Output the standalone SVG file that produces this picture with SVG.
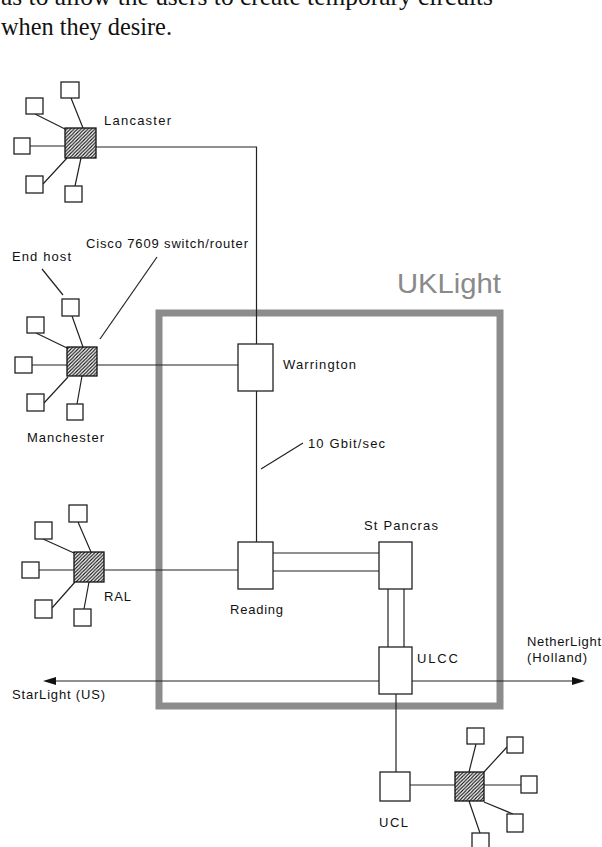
<svg xmlns="http://www.w3.org/2000/svg" width="602" height="847" viewBox="0 0 602 847">
<style>
.body{font-family:"Liberation Serif","DejaVu Serif",serif;font-size:25px;fill:#111}
.lbl{font-family:"Liberation Sans",Arial,sans-serif;font-size:13px;fill:#111}
.ln{stroke:#222;stroke-width:1.2;fill:none}
.box{fill:#fff;stroke:#222;stroke-width:1.3}
.sw{fill:url(#hatch);stroke:#111;stroke-width:1.3}
</style>
<defs>
<pattern id="hatch" patternUnits="userSpaceOnUse" width="3.5" height="3.5">
<rect width="3.5" height="3.5" fill="#fff"/>
<path d="M-1,1 L1,-1 M0,3.5 L3.5,0 M2.5,4.5 L4.5,2.5" stroke="#111" stroke-width="1.1"/>
</pattern>
</defs>
<rect width="602" height="847" fill="#fff"/>
<text class="body" x="1" y="5" textLength="492" lengthAdjust="spacingAndGlyphs">as to allow the users to create temporary circuits</text>
<text class="body" x="1" y="35" textLength="171" lengthAdjust="spacingAndGlyphs">when they desire.</text>

<g id="uklight">
<rect x="159" y="313" width="341" height="393" fill="none" stroke="#8c8c8c" stroke-width="7"/>
<text x="397" y="293" font-family="Liberation Sans, Arial, sans-serif" font-size="28" fill="#8a8a8a" textLength="104" lengthAdjust="spacingAndGlyphs">UKLight</text>
</g>

<g id="connectors">
<path class="ln" d="M96,147 H256.5 V344"/>
<path class="ln" d="M97,365 H238"/>
<path class="ln" d="M256.5,391 V542"/>
<path class="ln" d="M104,570 H238"/>
<path class="ln" d="M273,553 H379 M273,571 H379"/>
<path class="ln" d="M388,589 V647 M404,589 V647"/>
<path class="ln" d="M396,694 V772"/>
<path class="ln" d="M410,785 H455"/>
<line class="ln" x1="56" y1="681" x2="379" y2="681"/>
<line class="ln" x1="412" y1="681" x2="572" y2="681"/>
<path d="M43,681 L56,677 L56,685 Z" fill="#111"/>
<path d="M585,681 L572,677 L572,685 Z" fill="#111"/>
<path class="ln" d="M303,443 L261,469"/>
<path class="ln" d="M42,269 L63,295"/>
<path class="ln" d="M157,257 L100,339"/>
</g>

<g id="lancaster">
<path class="ln" d="M71,98 L83,128 M35,114 L65,129 M30,146 H65 M43,184 L67,158 M75,186 L81,158"/>
<rect class="box" x="61" y="82" width="18" height="16"/>
<rect class="box" x="26" y="98" width="17" height="16"/>
<rect class="box" x="14" y="138" width="16" height="16"/>
<rect class="box" x="26" y="176" width="17" height="17"/>
<rect class="box" x="65" y="186" width="17" height="16"/>
<rect class="sw" x="65" y="128" width="31" height="30"/>
<text class="lbl" x="104" y="125" textLength="67" lengthAdjust="spacing">Lancaster</text>
</g>

<g id="manchester">
<path class="ln" d="M72,316 L83,347 M36,333 L67,348 M32,365 H67 M44,403 L68,377 M77,404 L82,376"/>
<rect class="box" x="62" y="299" width="17" height="17"/>
<rect class="box" x="27" y="317" width="17" height="16"/>
<rect class="box" x="15" y="357" width="17" height="16"/>
<rect class="box" x="27" y="394" width="17" height="17"/>
<rect class="box" x="67" y="404" width="16" height="16"/>
<rect class="sw" x="67" y="347" width="30" height="29"/>
<text class="lbl" x="27" y="442" textLength="77" lengthAdjust="spacing">Manchester</text>
<text class="lbl" x="12" y="261" textLength="59" lengthAdjust="spacing">End host</text>
<text class="lbl" x="86" y="248" textLength="162" lengthAdjust="spacing">Cisco 7609 switch/router</text>
</g>

<g id="ral">
<path class="ln" d="M78,522 L91,552 M43,539 L74,553 M39,570 H74 M52,608 L75,582 M84,609 L89,582"/>
<rect class="box" x="69" y="505" width="18" height="17"/>
<rect class="box" x="35" y="522" width="17" height="17"/>
<rect class="box" x="22" y="562" width="17" height="16"/>
<rect class="box" x="35" y="600" width="17" height="18"/>
<rect class="box" x="74" y="609" width="17" height="17"/>
<rect class="sw" x="74" y="552" width="30" height="30"/>
<text class="lbl" x="104" y="601" textLength="27" lengthAdjust="spacing">RAL</text>
</g>

<g id="warrington">
<rect class="box" x="238" y="344" width="35" height="47"/>
<text class="lbl" x="283" y="369" textLength="73" lengthAdjust="spacing">Warrington</text>
</g>

<g id="link-label">
<text class="lbl" x="308" y="448" textLength="77" lengthAdjust="spacing">10 Gbit/sec</text>
</g>

<g id="reading">
<rect class="box" x="238" y="542" width="35" height="47"/>
<text class="lbl" x="230" y="614" textLength="53" lengthAdjust="spacing">Reading</text>
</g>

<g id="stpancras">
<rect class="box" x="379" y="542" width="33" height="47"/>
<text class="lbl" x="364" y="530" textLength="74" lengthAdjust="spacing">St Pancras</text>
</g>

<g id="ulcc">
<rect class="box" x="379" y="647" width="33" height="47"/>
<text class="lbl" x="417" y="663" textLength="41" lengthAdjust="spacing">ULCC</text>
</g>

<g id="netherlight">
<text class="lbl" x="527" y="646" textLength="74" lengthAdjust="spacing">NetherLight</text>
<text class="lbl" x="527" y="662" textLength="60" lengthAdjust="spacing">(Holland)</text>
</g>

<g id="starlight">
<text class="lbl" x="12" y="699" textLength="93" lengthAdjust="spacing">StarLight (US)</text>
</g>

<g id="ucl">
<rect class="box" x="380" y="772" width="30" height="29"/>
<text class="lbl" x="379" y="827" textLength="29" lengthAdjust="spacing">UCL</text>
</g>

<g id="ucl-switch">
<path class="ln" d="M476,744 L469,772 M507,747 L484,772 M484,785 H521 M484,802 L513,814 M469,801 L480,833"/>
<rect class="box" x="467" y="728" width="17" height="16"/>
<rect class="box" x="507" y="737" width="16" height="16"/>
<rect class="box" x="521" y="776" width="16" height="17"/>
<rect class="box" x="507" y="814" width="16" height="18"/>
<rect class="box" x="472" y="833" width="17" height="16"/>
<rect class="sw" x="455" y="772" width="29" height="29"/>
</g>
</svg>
